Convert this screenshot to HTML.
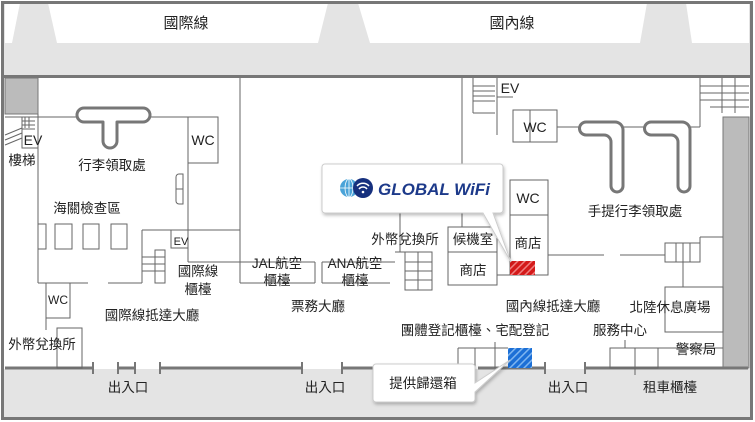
<!DOCTYPE html>
<html><head><meta charset="utf-8"><style>
html,body{margin:0;padding:0;background:#fff}
svg{display:block}
text{font-family:"Liberation Sans","Noto Sans CJK TC",sans-serif;fill:#222}
</style></head><body>
<svg width="755" height="422" viewBox="0 0 755 422" xmlns="http://www.w3.org/2000/svg">
<defs>
<pattern id="hr" width="5" height="5" patternUnits="userSpaceOnUse" patternTransform="rotate(45)"><rect width="5" height="5" fill="#d41a1a"/><rect width="1.5" height="5" fill="#f08080"/></pattern>
<pattern id="hb" width="5" height="5" patternUnits="userSpaceOnUse" patternTransform="rotate(45)"><rect width="5" height="5" fill="#1c6fd6"/><rect width="1.5" height="5" fill="#7fb6f0"/></pattern>
<filter id="sh" x="-10%" y="-10%" width="130%" height="140%"><feDropShadow dx="1" dy="2" stdDeviation="1.5" flood-color="#000" flood-opacity="0.25"/></filter>
</defs>
<rect x="3" y="3" width="748" height="73" fill="#e4e4e4"/>
<polygon points="48,3 328,3 318,43 57,43" fill="#fff"/>
<polygon points="358,3 647,3 640,43 370,43" fill="#fff"/>
<polygon points="686,3 749,3 749,43 692,43" fill="#fff"/>
<polygon points="5,3 20,3 12,43 5,43" fill="#fff"/>
<text x="186" y="28" font-size="15" text-anchor="middle">國際線</text>
<text x="512" y="28" font-size="15" text-anchor="middle">國內線</text>
<line x1="3" y1="76.5" x2="751" y2="76.5" stroke="#777" stroke-width="3"/>
<rect x="3" y="369" width="748" height="49" fill="#e4e4e4"/>
<rect x="2.5" y="2.5" width="749" height="416" fill="none" stroke="#777" stroke-width="3"/>
<rect x="5" y="78" width="33" height="36" fill="#bbb" stroke="#777"/>
<rect x="723" y="117" width="26" height="251" fill="#bbb" stroke="#777"/>
<g stroke="#777" stroke-width="3">
<line x1="5" y1="368" x2="93" y2="368"/><line x1="118" y1="368" x2="135" y2="368"/>
<line x1="160" y1="368" x2="302" y2="368"/><line x1="342" y1="368" x2="375" y2="368"/>
<line x1="478" y1="368" x2="545" y2="368"/><line x1="585" y1="368" x2="748" y2="368"/>
</g>
<g stroke="#777" stroke-width="2">
<line x1="93" y1="362" x2="93" y2="374"/><line x1="118" y1="362" x2="118" y2="374"/><line x1="135" y1="362" x2="135" y2="374"/><line x1="160" y1="362" x2="160" y2="374"/>
<line x1="302" y1="362" x2="302" y2="374"/><line x1="342" y1="362" x2="342" y2="374"/>
<line x1="545" y1="362" x2="545" y2="374"/><line x1="585" y1="362" x2="585" y2="374"/>
</g>
<g stroke="#666" stroke-width="1" fill="none">
<line x1="240" y1="78" x2="240" y2="283"/>
<line x1="5" y1="117" x2="77" y2="117"/><line x1="150" y1="117" x2="218" y2="117"/>
<rect x="188" y="117" width="30" height="46"/>
<line x1="188" y1="163" x2="188" y2="262"/>
<line x1="38" y1="114" x2="38" y2="283"/>
<rect x="22" y="117" width="16" height="31"/>
<line x1="22" y1="121" x2="35" y2="121"/><line x1="22" y1="125" x2="35" y2="125"/><line x1="22" y1="129" x2="35" y2="129"/>
<line x1="5" y1="135" x2="22" y2="128"/><line x1="5" y1="140" x2="22" y2="133"/><line x1="5" y1="145" x2="22" y2="138"/>
<line x1="25" y1="117" x2="25" y2="128"/><line x1="29" y1="117" x2="29" y2="128"/>
<path d="M183,174 h-4 a3,3 0 0 0 -3,3 v24 a3,3 0 0 0 3,3 h4 z"/><line x1="176" y1="189" x2="183" y2="189"/>
<rect x="38" y="224" width="8" height="25"/><rect x="55" y="224" width="17" height="25"/><rect x="83" y="224" width="16" height="25"/><rect x="111" y="224" width="16" height="25"/>
<line x1="142" y1="230" x2="240" y2="230"/><line x1="142" y1="230" x2="142" y2="283"/>
<rect x="171" y="230" width="17" height="18"/>
<line x1="188" y1="262" x2="315" y2="262"/>
<rect x="155" y="250" width="10" height="33"/>
<line x1="142" y1="257" x2="165" y2="257"/><line x1="142" y1="264" x2="165" y2="264"/><line x1="142" y1="271" x2="165" y2="271"/>
<line x1="38" y1="283" x2="88" y2="283"/><line x1="108" y1="283" x2="142" y2="283"/>
<line x1="240" y1="283" x2="315" y2="283"/><line x1="315" y1="262" x2="315" y2="283"/>
<line x1="322" y1="262" x2="322" y2="283"/><line x1="322" y1="283" x2="390" y2="283"/><line x1="322" y1="262" x2="395" y2="262"/>
<rect x="46" y="283" width="24" height="35"/><line x1="46" y1="318" x2="46" y2="330"/>
<rect x="57" y="328" width="25" height="40"/>
<line x1="400" y1="175" x2="400" y2="252"/><line x1="395" y1="252" x2="405" y2="252"/>
<rect x="405" y="252" width="27" height="38"/>
<line x1="405" y1="262" x2="432" y2="262"/><line x1="405" y1="271" x2="432" y2="271"/><line x1="405" y1="280" x2="432" y2="280"/><line x1="418" y1="252" x2="418" y2="290"/>
<rect x="448" y="227" width="49" height="58"/><line x1="448" y1="252" x2="497" y2="252"/>
<line x1="462" y1="78" x2="462" y2="165"/><line x1="462" y1="213" x2="462" y2="227"/>
<rect x="510" y="180" width="38" height="95"/><line x1="510" y1="215" x2="548" y2="215"/>
<line x1="497" y1="275" x2="510" y2="275"/>
<line x1="548" y1="255" x2="604" y2="255"/><line x1="620" y1="255" x2="665" y2="255"/>
<rect x="665" y="243" width="35" height="19"/>
<line x1="683" y1="243" x2="683" y2="262"/><line x1="690" y1="243" x2="690" y2="262"/><line x1="676" y1="243" x2="676" y2="262"/>
<line x1="700" y1="237" x2="723" y2="237"/><line x1="700" y1="237" x2="700" y2="262"/>
<line x1="683" y1="262" x2="683" y2="287"/>
<rect x="665" y="287" width="58" height="45"/>
<line x1="497" y1="78" x2="497" y2="135"/>
<line x1="473" y1="78" x2="473" y2="113"/><line x1="473" y1="86" x2="495" y2="86"/><line x1="473" y1="91" x2="495" y2="91"/><line x1="473" y1="96" x2="495" y2="96"/><line x1="473" y1="101" x2="495" y2="101"/><line x1="473" y1="113" x2="495" y2="113"/>
<line x1="497" y1="97" x2="513" y2="97"/>
<rect x="513" y="110" width="44" height="32"/><line x1="530" y1="110" x2="530" y2="142"/>
<line x1="557" y1="127" x2="580" y2="127"/><line x1="623" y1="127" x2="645" y2="127"/><line x1="690" y1="127" x2="700" y2="127"/>
<line x1="700" y1="78" x2="700" y2="127"/>
<line x1="722" y1="78" x2="722" y2="113"/><line x1="700" y1="86" x2="749" y2="86"/><line x1="700" y1="93" x2="749" y2="93"/><line x1="700" y1="100" x2="749" y2="100"/><line x1="710" y1="107" x2="749" y2="107"/><line x1="735" y1="78" x2="735" y2="113"/>
<line x1="458" y1="348" x2="508" y2="348"/><line x1="458" y1="348" x2="458" y2="368"/><line x1="475" y1="348" x2="475" y2="368"/><line x1="495" y1="342" x2="495" y2="368"/>
<rect x="610" y="348" width="48" height="20"/><line x1="635" y1="348" x2="635" y2="375"/><line x1="625" y1="340" x2="625" y2="348"/>
<line x1="658" y1="348" x2="723" y2="348"/>
</g>
<g fill="none" stroke="#777" stroke-width="3" stroke-linejoin="round">
<path d="M84,108 H143 a7,7 0 0 1 0,14 H117 V141 a7,7 0 0 1 -14,0 V122 H84 a7,7 0 0 1 0,-14 z"/>
<path d="M586,122 H615 a8,8 0 0 1 8,8 V186 a6,6 0 0 1 -12,0 V142 a7,7 0 0 0 -7,-7 H586 a6.5,6.5 0 0 1 0,-13 z"/>
<path d="M651,122 H682 a8,8 0 0 1 8,8 V186 a6,6 0 0 1 -12,0 V142 a7,7 0 0 0 -7,-7 H651 a6.5,6.5 0 0 1 0,-13 z"/>
</g>
<rect x="510" y="261" width="25" height="14" fill="url(#hr)"/>
<rect x="508" y="348" width="24" height="20" fill="url(#hb)"/>
<g font-size="13.5">
<text x="203" y="145" text-anchor="middle" font-size="14">WC</text>
<text x="33" y="145" text-anchor="middle" font-size="14">EV</text>
<text x="22" y="165" text-anchor="middle">樓梯</text>
<text x="112" y="170" text-anchor="middle">行李領取處</text>
<text x="87" y="213" text-anchor="middle">海關檢查區</text>
<text x="181" y="245" text-anchor="middle" font-size="11">EV</text>
<text x="198" y="276" text-anchor="middle">國際線</text>
<text x="198" y="294" text-anchor="middle">櫃檯</text>
<text x="277" y="268" text-anchor="middle">JAL航空</text>
<text x="277" y="285" text-anchor="middle">櫃檯</text>
<text x="355" y="268" text-anchor="middle">ANA航空</text>
<text x="355" y="285" text-anchor="middle">櫃檯</text>
<text x="58" y="304" text-anchor="middle" font-size="12">WC</text>
<text x="152" y="320" text-anchor="middle">國際線抵達大廳</text>
<text x="318" y="311" text-anchor="middle">票務大廳</text>
<text x="42" y="349" text-anchor="middle">外幣兌換所</text>
<text x="128" y="392" text-anchor="middle">出入口</text>
<text x="325" y="392" text-anchor="middle">出入口</text>
<text x="568" y="392" text-anchor="middle">出入口</text>
<text x="670" y="392" text-anchor="middle">租車櫃檯</text>
<text x="696" y="354" text-anchor="middle">警察局</text>
<text x="620" y="335" text-anchor="middle">服務中心</text>
<text x="670" y="312" text-anchor="middle">北陸休息廣場</text>
<text x="553" y="311" text-anchor="middle">國內線抵達大廳</text>
<text x="475" y="335" text-anchor="middle">團體登記櫃檯、宅配登記</text>
<text x="405" y="244" text-anchor="middle">外幣兌換所</text>
<text x="473" y="244" text-anchor="middle">候機室</text>
<text x="473" y="275" text-anchor="middle">商店</text>
<text x="528" y="203" text-anchor="middle" font-size="14">WC</text>
<text x="528" y="248" text-anchor="middle">商店</text>
<text x="510" y="93" text-anchor="middle" font-size="14">EV</text>
<text x="535" y="132" text-anchor="middle" font-size="14">WC</text>
<text x="635" y="216" text-anchor="middle">手提行李領取處</text>
</g>
<g filter="url(#sh)">
<path d="M325,164 H500 a3,3 0 0 1 3,3 V210 a3,3 0 0 1 -3,3 H493 L511,262 L483,213 H325 a3,3 0 0 1 -3,-3 V167 a3,3 0 0 1 3,-3 z" fill="#fff" stroke="#ccc"/>
</g>
<circle cx="349" cy="188" r="9" fill="#4aa3d8"/>
<g stroke="#fff" stroke-width="0.8" fill="none"><line x1="340" y1="188" x2="358" y2="188"/><ellipse cx="349" cy="188" rx="4" ry="9"/><line x1="349" y1="179" x2="349" y2="197"/></g>
<circle cx="363" cy="188" r="10" fill="#16307e"/>
<g stroke="#fff" stroke-width="1.5" fill="none"><path d="M357,186 a8,8 0 0 1 12,0"/><path d="M359,189 a5,5 0 0 1 8,0"/></g>
<circle cx="363" cy="192" r="1.3" fill="#fff"/>
<text x="378" y="195" font-size="17" font-weight="bold" font-style="italic" style="fill:#1d3a8a">GLOBAL WiFi</text>
<g filter="url(#sh)">
<path d="M376,364 H472 a3,3 0 0 1 3,3 V383 L510,360 L475,392 V399 a3,3 0 0 1 -3,3 H376 a3,3 0 0 1 -3,-3 V367 a3,3 0 0 1 3,-3 z" fill="#fff" stroke="#ccc"/>
</g>
<text x="423" y="388" font-size="13.5" text-anchor="middle">提供歸還箱</text>
</svg>
</body></html>
